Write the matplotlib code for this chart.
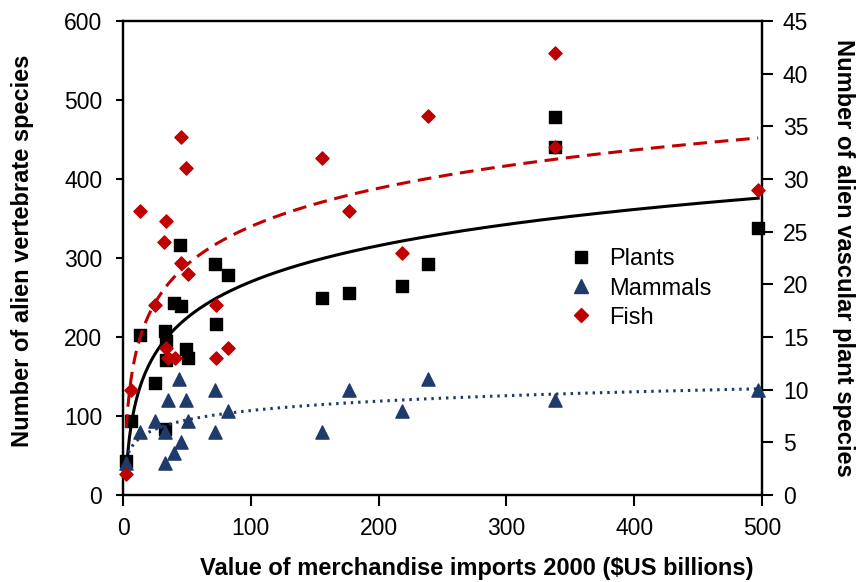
import numpy as np
import matplotlib
matplotlib.use("Agg")
import matplotlib.pyplot as plt
from matplotlib.lines import Line2D

# ---- data ----
plants_x = [2.6, 6.5, 13, 25, 33, 34, 34, 33, 44.5, 40, 45, 49, 51, 72, 82, 73,
            156, 177, 218, 239, 338, 338, 497]
plants_y = [43, 94, 203, 142, 207, 195, 171, 83, 316, 243, 239, 185, 174, 292, 279, 217,
            249, 256, 264, 293, 478, 440, 338]

mammals_x = [2.6, 13, 25, 33, 35, 33, 40, 45, 44, 49, 51, 72, 72, 82,
             156, 177, 218, 239, 338, 497]
mammals_y = [3, 6, 7, 6, 9, 3, 4, 5, 11, 9, 7, 10, 6, 8,
             6, 10, 8, 11, 9, 10]

fish_x = [2.6, 6, 13, 25, 32, 34, 34, 35, 40.5, 45, 45, 49, 51, 72.5, 72.5, 82,
          156, 177, 218, 239, 338, 338, 497]
fish_y = [2, 10, 27, 18, 24, 26, 14, 13, 13, 22, 34, 31, 21, 18, 13, 14,
          32, 27, 23, 36, 42, 33, 29]

left_ticks = [0, 100, 200, 300, 400, 500, 600]
right_ticks = [0, 5, 10, 15, 20, 25, 30, 35, 40, 45]
x_ticks = [0, 100, 200, 300, 400, 500]

c_plants = "#000000"
c_mammals = "#1F3B6B"
c_fish = "#C00000"

plt.rcParams['font.family'] = ['Liberation Sans', 'DejaVu Sans']

fig = plt.figure(figsize=(8.59, 5.82), dpi=100)
ax = fig.add_axes([123/859, (582-495)/582, (762-123)/859, (495-21)/582])
ax2 = ax.twinx()


def logfit(x, y):
    x = np.asarray(x, float)
    y = np.asarray(y, float)
    a, b = np.polyfit(np.log(x), y, 1)
    xs = np.linspace(x.min(), x.max(), 400)
    return xs, a * np.log(xs) + b

xs, ys = logfit(plants_x, plants_y)
ax.plot(xs, ys, color=c_plants, lw=2.2, zorder=2)
xs, ys = logfit(fish_x, fish_y)
ax2.plot(xs, ys, color=c_fish, lw=2.2, ls=(0, (4.5, 2.5)), zorder=2)
xs, ys = logfit(mammals_x, mammals_y)
ax2.plot(xs, ys, color=c_mammals, lw=2.2, ls=(0, (0.8, 1.6)), zorder=2)

ax.scatter(plants_x, plants_y, marker="s", s=85, color=c_plants, zorder=3, clip_on=False)
ax2.scatter(mammals_x, mammals_y, marker="^", s=90, color=c_mammals, zorder=3, clip_on=False)
ax2.scatter(fish_x, fish_y, marker="D", s=45, color=c_fish, zorder=4, clip_on=False)

ax.set_xlim(0, 500)
ax.set_ylim(0, 600)
ax2.set_ylim(0, 45)
ax.set_xticks(x_ticks)
ax.set_yticks(left_ticks)
ax2.set_yticks(right_ticks)

for a in (ax, ax2):
    for s in a.spines.values():
        s.set_linewidth(1.6)
ax.tick_params(axis='x', direction='out', length=8, width=1.5, labelsize=16.5, pad=8)
ax.tick_params(axis='y', direction='out', length=5, width=1.5, labelsize=16.5, pad=10)
ax2.tick_params(axis='y', direction='out', length=8, width=1.5, labelsize=16.5, pad=7)

ax.set_xlabel("Value of merchandise imports 2000 ($US billions)", fontsize=17,
              fontweight='bold')
ax.xaxis.set_label_coords((477 - 123) / (762 - 123), -0.131)
ax.set_ylabel("Number of alien vertebrate species", fontsize=17, fontweight='bold')
ax.yaxis.set_label_coords(-0.139, 0.515)
ax2.set_ylabel("Number of alien vascular plant species", fontsize=17, fontweight='bold',
               rotation=270)
ax2.yaxis.set_label_coords(1.146, 0.5)

handles = [
    Line2D([], [], ls='none', marker='s', ms=9, color=c_plants),
    Line2D([], [], ls='none', marker='^', ms=9.5, color=c_mammals),
    Line2D([], [], ls='none', marker='D', ms=7, color=c_fish),
]
ax2.legend(handles, ["Plants", "Mammals", "Fish"], loc='upper left',
           bbox_to_anchor=((557 - 123) / (762 - 123), (495 - 239) / (495 - 21)),
           frameon=False, fontsize=17, handletextpad=0.6, labelspacing=0.3,
           borderaxespad=0, handlelength=1.2)

fig.savefig("out.png", dpi=100)
